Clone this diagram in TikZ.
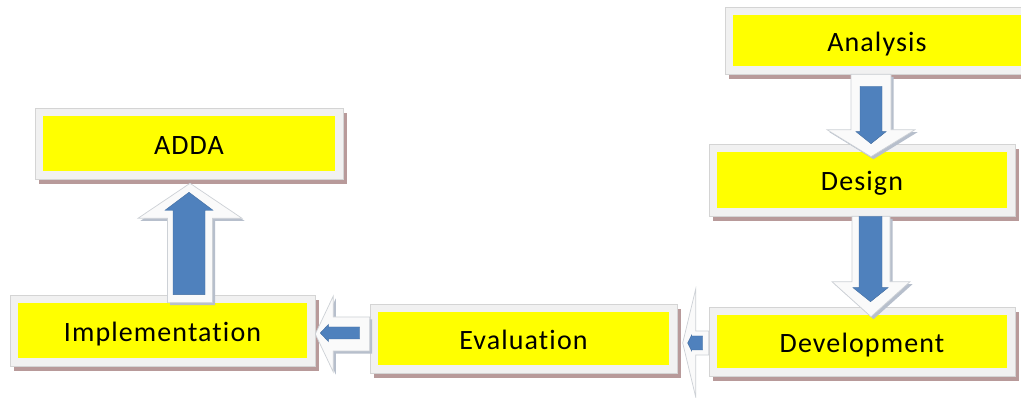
\documentclass[tikz,border=0pt]{standalone}
\usepackage{fontspec}
\setmainfont{Carlito}[LetterSpace=4, Ligatures={NoCommon}]
\usetikzlibrary{calc,shadows}

\definecolor{boxframe}{HTML}{F1F1F1}
\definecolor{boxedge}{HTML}{D4D4D4}
\definecolor{boxshadow}{HTML}{B89A9A}
\definecolor{stagefill}{HTML}{FFFF00}
\definecolor{arrowblue}{HTML}{4F81BD}
\definecolor{arrowrim}{HTML}{CDD1D6}
\definecolor{arrowshadow}{HTML}{B7BFCC}

% block arrow from #2 to #3: shaft half width #4, head half width #5, head length #6
\newcommand\blockarrow[6][]{%
  \coordinate (ba-h) at ($(#3)!#6!(#2)$);
  \path[#1] ($(#2)!#4!90:(#3)$)
    -- ($(ba-h)!#4!-90:(#2)$)
    -- ($(ba-h)!#5!-90:(#2)$)
    -- (#3)
    -- ($(ba-h)!#5!90:(#2)$)
    -- ($(ba-h)!#4!90:(#2)$)
    -- ($(#2)!#4!-90:(#3)$) -- cycle;}

\tikzset{
  stage/.style={rectangle, inner sep=0pt, draw=boxedge, fill=boxframe, line width=0.6pt,
    drop shadow={shadow xshift=4pt, shadow yshift=-5pt, fill=boxshadow, opacity=1},
    path picture={\fill[stagefill]
      ($(path picture bounding box.north west)+(8pt,-8.5pt)$) rectangle
      ($(path picture bounding box.south east)+(-8pt,8pt)$);},
    font=\fontsize{28}{30}\selectfont, text height=22pt, text depth=0pt},
  outerarrow/.style={fill=white!96!gray, draw=arrowrim, line width=0.7pt,
    drop shadow={shadow xshift=2.5pt, shadow yshift=-2.5pt, fill=arrowshadow, opacity=1}},
  flatarrow/.style={fill=white!96!gray, draw=arrowrim, line width=0.7pt},
  innerarrow/.style={fill=arrowblue, draw=arrowblue!85!black, line width=0.4pt}
}

\begin{document}
\begin{tikzpicture}[x=1pt, y=-1pt]
  \fill[white] (0,0) rectangle (1021,398);
  \useasboundingbox (0,0) rectangle (1021,398);

  % stages
  \node[stage, minimum width=304pt, minimum height=67pt] (an) at (877,40.5) {Analysis};
  \node[stage, minimum width=306pt, minimum height=72pt] (de) at (862,180) {Design};
  \node[stage, minimum width=306pt, minimum height=69pt] (dv) at (862,341.5) {Development};
  \node[stage, minimum width=307pt, minimum height=69pt] (ev) at (523.5,338.5) {Evaluation};
  \node[stage, minimum width=305pt, minimum height=71pt] (im) at (162.5,330.5) {Implementation};
  \node[stage, minimum width=308pt, minimum height=71pt] (ad) at (189,143.5) {ADDA};

  % Analysis -> Design
  \coordinate (a1s) at ($(an.south)+(-6,0)$);
  \coordinate (a1t) at ($(de.north)+(9,13)$);
  \coordinate (b1s) at ($(an.south)+(-6,12)$);
  \coordinate (b1t) at ($(de.north)+(9,0)$);
  \blockarrow[outerarrow]{a1s}{a1t}{20pt}{44pt}{27pt}
  \blockarrow[innerarrow]{b1s}{b1t}{11pt}{15pt}{12pt}

  % Design -> Development
  \coordinate (a2s) at ($(de.south)+(9,0)$);
  \coordinate (a2t) at ($(dv.north)+(9,10)$);
  \coordinate (b2s) at ($(de.south)+(8.5,0)$);
  \coordinate (b2t) at ($(dv.north)+(8.5,-5)$);
  \blockarrow[outerarrow]{a2s}{a2t}{19pt}{39pt}{35pt}
  \blockarrow[innerarrow]{b2s}{b2t}{11.5pt}{17.5pt}{14pt}

  % Development -> Evaluation
  \coordinate (a3s) at ($(dv.west)+(0,1.5)$);
  \coordinate (a3t) at ($(dv.west)+(-26,1.5)$);
  \coordinate (b3s) at ($(dv.west)+(-6,1.5)$);
  \coordinate (b3t) at ($(dv.west)+(-21,1.5)$);
  \blockarrow[flatarrow]{a3s}{a3t}{12pt}{54pt}{13pt}
  \blockarrow[innerarrow]{b3s}{b3t}{7pt}{8pt}{4pt}

  % Evaluation -> Implementation
  \coordinate (a4s) at ($(ev.west)+(0,-4.5)$);
  \coordinate (a4t) at ($(im.east)+(0,3.5)$);
  \coordinate (b4s) at ($(ev.west)+(-10,-5.5)$);
  \coordinate (b4t) at ($(im.east)+(5,2.5)$);
  \blockarrow[outerarrow]{a4s}{a4t}{17pt}{38pt}{18pt}
  \blockarrow[innerarrow]{b4s}{b4t}{6pt}{8.5pt}{8pt}

  % Implementation -> ADDA
  \coordinate (a5s) at ($(im.north)+(27.5,8)$);
  \coordinate (a5t) at ($(ad.south)+(1,4)$);
  \coordinate (b5s) at ($(im.north)+(26.5,0)$);
  \coordinate (b5t) at ($(ad.south)+(0,13)$);
  \blockarrow[outerarrow]{a5s}{a5t}{22.5pt}{52pt}{35pt}
  \blockarrow[innerarrow]{b5s}{b5t}{16pt}{24pt}{18pt}
\end{tikzpicture}
\end{document}
